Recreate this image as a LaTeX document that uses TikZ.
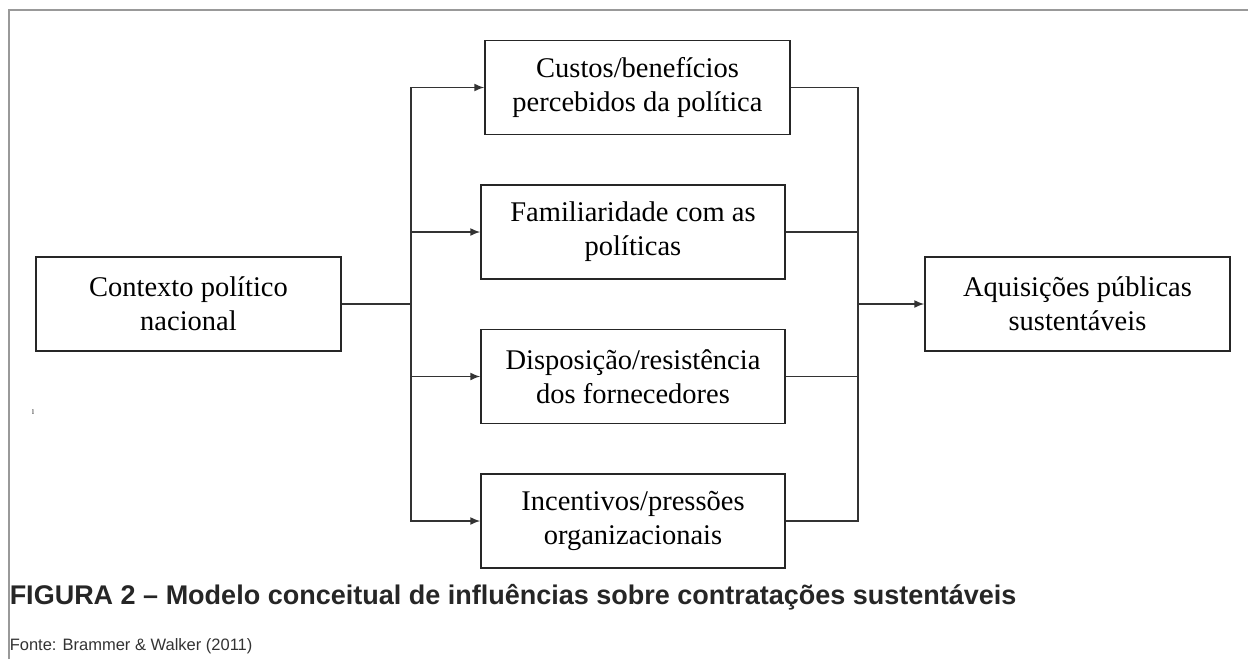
\documentclass[tikz,border=0pt]{standalone}
\usepackage{fontspec}
\setmainfont{Liberation Serif}
\newfontfamily\capfont{Liberation Sans}
\usetikzlibrary{arrows.meta}

\begin{document}
\begin{tikzpicture}[x=1pt,y=-1pt,>={Latex[length=10pt,width=8pt]},line width=1.5pt,
        box node/.style={rectangle,draw=black!85,minimum width=305pt,minimum height=94pt,
        align=center,font=\fontsize{28.5}{34}\selectfont,inner sep=0pt}]
        \useasboundingbox (0,0) rectangle (1248,659);

        % frame
        \draw[gray!80,line width=2pt] (9,659) -- (9,10) -- (1248,10);

        \node[box node] (ctx) at (188.5,304) {Contexto pol\'itico\\nacional};
        \node[box node] (b1) at (637.5,87.5) {Custos/benef\'icios\\percebidos da pol\'itica};
        \node[box node,minimum width=304pt] (b2) at (633,232) {Familiaridade com as\\pol\'iticas};
        \node[box node,minimum width=304pt] (b3) at (633,376.5) {Disposi\c{c}\~ao/resist\^encia\\dos fornecedores};
        \node[box node,minimum width=304pt] (b4) at (633,521) {Incentivos/press\~oes\\organizacionais};
        \node[box node] (aq) at (1077.5,304) {Aquisi\c{c}\~oes p\'ublicas\\sustent\'aveis};

        \coordinate (jl) at (411,304);
        \coordinate (jr) at (858,304);

        \draw[black!80] (ctx.east) -- (jl);
        \foreach \b in {b1,b2,b3,b4} {
          \draw[->,black!80] (jl) |- (\b.west);
          \draw[black!80] (\b.east) -| (jr);
        }
        \draw[->,black!80] (jr) -- (aq.west);

        \node[font=\fontsize{7}{8}\selectfont,inner sep=0pt] (dot) at (33,412) {l};

        \node[anchor=base west,inner sep=0pt,font=\capfont\bfseries\fontsize{27}{30}\selectfont,text=black!85]
          (cap) at (9,604) {FIGURA 2 – Modelo conceitual de influ\^encias sobre contrata\c{c}\~oes sustent\'aveis};
        \node[anchor=base west,inner sep=0pt,font=\capfont\fontsize{16.5}{18}\selectfont,text=black!80]
          (src) at (9,650) {Fonte: Brammer \& Walker (2011)};
\end{tikzpicture}
\end{document}
